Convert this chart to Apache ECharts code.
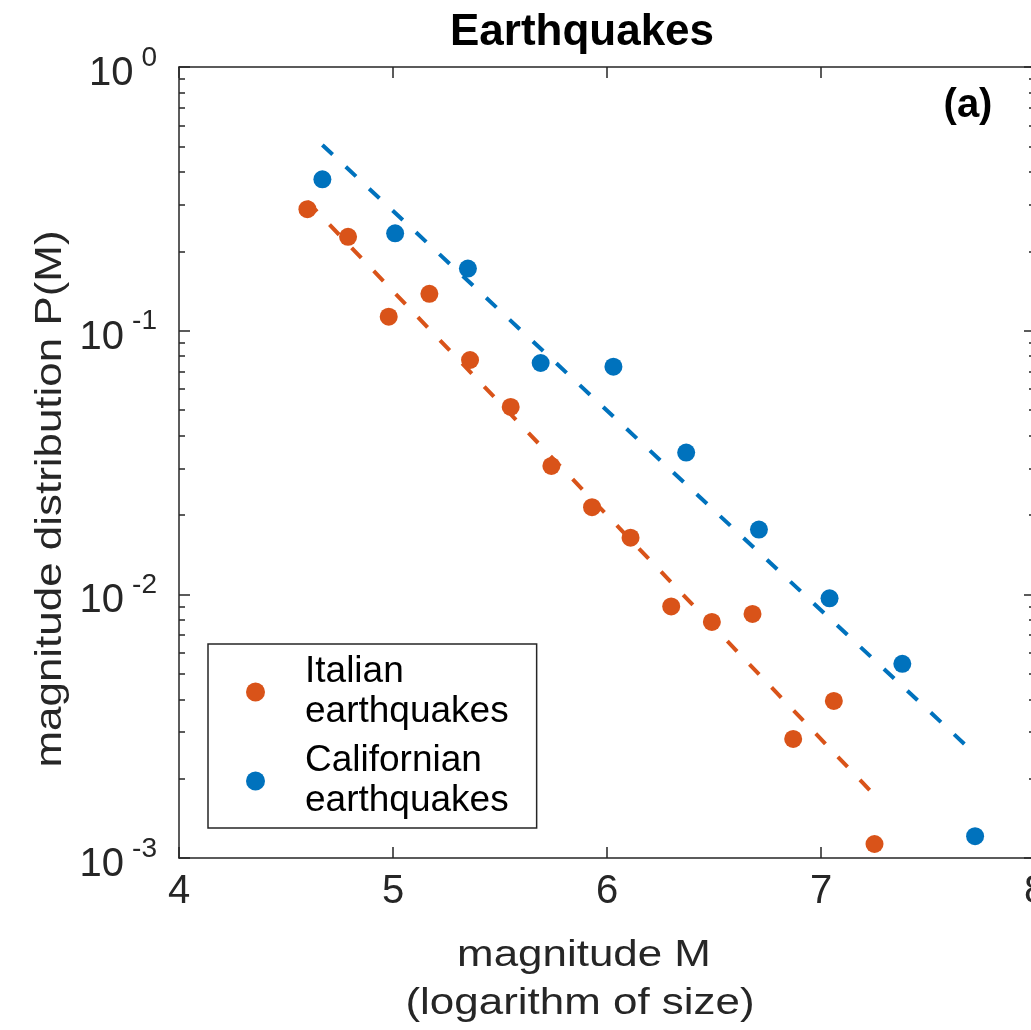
<!DOCTYPE html>
<html lang="en">

<head>
  <meta charset="UTF-8">
  <title>Earthquakes</title>
  <style>
    html, body { margin: 0; padding: 0; background: #fff; }
    #main { width: 1031px; height: 1030px; }
  </style>
</head>

<body>
  <div id="main"></div>

  <script src="https://cdn.jsdelivr.net/npm/echarts@6/dist/echarts.min.js"></script>
  <script>
    // data
    const italianM = [4.60, 4.79, 4.98, 5.17, 5.36, 5.55, 5.74, 5.93, 6.11, 6.30, 6.49, 6.68, 6.87, 7.06, 7.25];
    const italianP = [0.289, 0.227, 0.113, 0.138, 0.0774, 0.0514, 0.0307, 0.0214, 0.0164, 0.0090, 0.00786, 0.00843, 0.00283, 0.00394, 0.00113];
    const californiaM = [4.67, 5.01, 5.35, 5.69, 6.03, 6.37, 6.71, 7.04, 7.38, 7.72];
    const californiaP = [0.375, 0.234, 0.172, 0.0754, 0.0730, 0.0345, 0.0176, 0.00966, 0.00545, 0.00121];

    // dashed fit lines (end points)
    const italianFitM = [4.60, 7.23];
    const italianFitP = [0.309, 0.0018];
    const californiaFitM = [4.67, 7.68];
    const californiaFitP = [0.506, 0.00266];

    // axis ticks
    const yMajor = [0.001, 0.01, 0.1, 1];
    const yMinor = [];
    [0.001, 0.01, 0.1].forEach(function (d) {
      for (let k = 2; k <= 9; k++) yMinor.push(+(d * k).toPrecision(3));
    });

    const names = ['Italian\nearthquakes', 'Californian\nearthquakes'];
    const orange = '#D95319';
    const blue = '#0072BD';
    const ink = '#262626';
    const font = '"Liberation Sans", Helvetica, Arial, sans-serif';

    function pairs(xs, ys) {
      return xs.map(function (x, i) { return [x, ys[i]]; });
    }

    function yAxisDef(pos, values, len, labels) {
      return {
        type: 'log',
        logBase: 10,
        min: 0.001,
        max: 1,
        position: pos,
        axisLine: { show: labels, lineStyle: { color: ink, width: 1.5 } },
        axisTick: { show: true, inside: true, length: len, customValues: values, lineStyle: { color: ink, width: 1.5 } },
        minorTick: { show: false },
        splitLine: { show: false },
        axisLabel: labels ? {
          show: true,
          customValues: yMajor,
          margin: 22,
          formatter: function (v) {
            return '{b|10}{s|' + Math.round(Math.log10(v)) + '}';
          },
          // padding on the tokens pushes "10" down and the exponent up
          rich: {
            b: { fontFamily: font, fontSize: 40, color: ink, lineHeight: 40, padding: [14, 0, 0, 0] },
            s: { fontFamily: font, fontSize: 28, color: ink, lineHeight: 8, padding: [0, 0, 18, 8] }
          }
        } : { show: false }
      };
    }

    function xAxisDef(pos, labels) {
      return {
        type: 'value',
        min: 4,
        max: 8,
        interval: 1,
        position: pos,
        axisLine: { show: true, lineStyle: { color: ink, width: 1.5 } },
        axisTick: { show: true, inside: true, length: 11, lineStyle: { color: ink, width: 1.5 } },
        splitLine: { show: false },
        axisLabel: labels ? {
          show: true,
          margin: 14,
          fontFamily: font,
          fontSize: 40,
          color: ink
        } : { show: false }
      };
    }

    const chart = echarts.init(document.getElementById('main'));
    chart.setOption({
      animation: false,
      backgroundColor: '#fff',
      grid: { left: 179, right: -4, top: 67, bottom: 172, containLabel: false, outerBoundsMode: 'none' },
      xAxis: [xAxisDef('bottom', true), xAxisDef('top', false)],
      yAxis: [
        yAxisDef('left', yMajor, 11, true),
        yAxisDef('left', yMinor, 6, false),
        yAxisDef('right', yMajor, 11, false),
        yAxisDef('right', yMinor, 6, false)
      ],
      legend: {
        data: names,
        orient: 'vertical',
        left: 208,
        top: 644,
        icon: 'circle',
        itemWidth: 19,
        itemHeight: 19,
        itemGap: 9,
        padding: [8, 28, 7, 38],
        backgroundColor: '#fff',
        borderColor: ink,
        borderWidth: 1.5,
        borderRadius: 0,
        textStyle: { fontFamily: font, fontSize: 37, color: '#000', lineHeight: 40, padding: [0, 0, 0, 35] }
      },
      graphic: [
        {
          type: 'text', x: 582, y: 33,
          style: { text: 'Earthquakes', font: 'bold 44px ' + font, fill: '#000', align: 'center', verticalAlign: 'middle' }
        },
        {
          type: 'text', x: 968, y: 106,
          style: { text: '(a)', font: 'bold 40px ' + font, fill: '#000', align: 'center', verticalAlign: 'middle' }
        },
        {
          type: 'text', x: 584, y: 956, scaleX: 1.22,
          style: { text: 'magnitude M', font: '36px ' + font, fill: ink, align: 'center', verticalAlign: 'middle' }
        },
        {
          type: 'text', x: 580, y: 1004, scaleX: 1.22,
          style: { text: '(logarithm of size)', font: '36px ' + font, fill: ink, align: 'center', verticalAlign: 'middle' }
        },
        {
          type: 'text', x: 51, y: 499, rotation: Math.PI / 2, scaleX: 1.22,
          style: { text: 'magnitude distribution P(M)', font: '36px ' + font, fill: ink, align: 'center', verticalAlign: 'middle' }
        }
      ],
      series: [
        {
          name: names[0],
          type: 'scatter',
          symbol: 'circle',
          symbolSize: 18,
          itemStyle: { color: orange, opacity: 1 },
          data: pairs(italianM, italianP),
          z: 3
        },
        {
          name: names[1],
          type: 'scatter',
          symbol: 'circle',
          symbolSize: 18,
          itemStyle: { color: blue, opacity: 1 },
          data: pairs(californiaM, californiaP),
          z: 3
        },
        {
          name: 'Italian fit',
          type: 'line',
          showSymbol: false,
          silent: true,
          lineStyle: { color: orange, width: 4, type: [14, 18] },
          data: pairs(italianFitM, italianFitP),
          z: 4
        },
        {
          name: 'Californian fit',
          type: 'line',
          showSymbol: false,
          silent: true,
          lineStyle: { color: blue, width: 4, type: [14, 18] },
          data: pairs(californiaFitM, californiaFitP),
          z: 4
        }
      ]
    });
  </script>
</body>

</html>
